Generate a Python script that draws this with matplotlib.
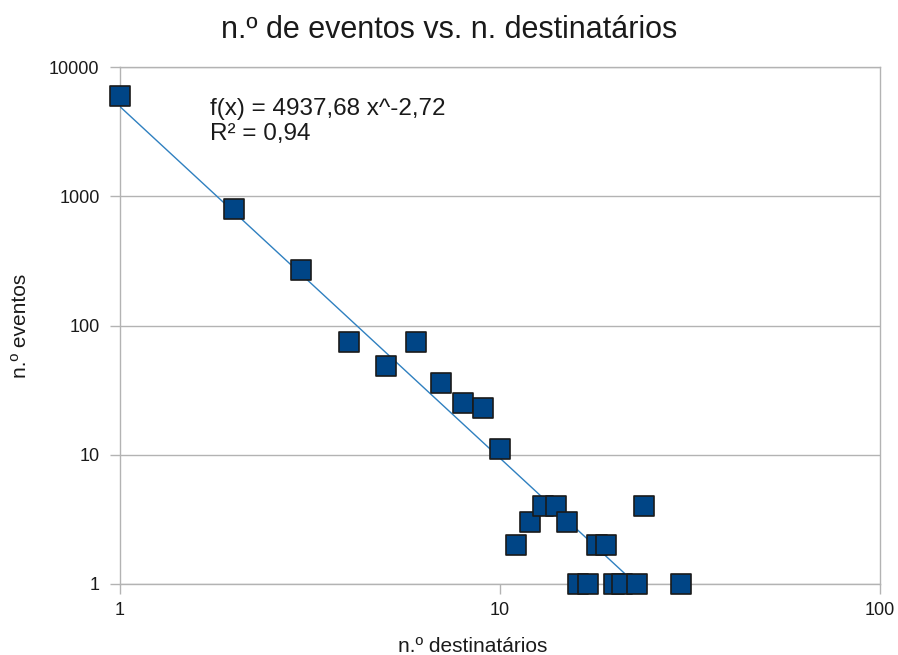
import matplotlib
matplotlib.use("Agg")
import matplotlib.pyplot as plt
import numpy as np
from matplotlib.ticker import FixedLocator, FixedFormatter, NullLocator

plt.rcParams['font.family'] = ['Liberation Sans', 'DejaVu Sans']

destinatarios = [1, 2, 3, 4, 5, 6, 7, 8, 9, 10, 11, 12, 13, 14, 15, 16, 17, 18, 19, 20, 21, 23, 24, 30]
eventos = [6000, 800, 270, 75, 49, 75, 36, 25, 23, 11, 2, 3, 4, 4, 3, 1, 1, 2, 2, 1, 1, 1, 4, 1]
fit_coef = 4937.68
fit_exp = -2.72
x_ticks = [1, 10, 100]
y_ticks = [1, 10, 100, 1000, 10000]

fig = plt.figure(figsize=(8.98, 6.55), dpi=100)
ax = fig.add_axes([0.1336, 0.1084, 0.98 - 0.1336, 0.8977 - 0.1084])

ax.set_xscale('log')
ax.set_yscale('log')
ax.set_xlim(1, 100)
ax.set_ylim(1, 10000)

xf = np.logspace(0, np.log10(max(destinatarios)), 200)
ax.plot(xf, fit_coef * xf ** fit_exp, color='#2f80c0', lw=1.0, zorder=3)
ax.scatter(destinatarios, eventos, marker='s', s=190, color='#004586',
           edgecolors='#1a1a1a', linewidths=1.2, zorder=4, clip_on=False)

ax.xaxis.set_major_locator(FixedLocator(x_ticks))
ax.xaxis.set_major_formatter(FixedFormatter([str(v) for v in x_ticks]))
ax.yaxis.set_major_locator(FixedLocator(y_ticks))
ax.yaxis.set_major_formatter(FixedFormatter([str(v) for v in y_ticks]))
ax.xaxis.set_minor_locator(NullLocator())
ax.yaxis.set_minor_locator(NullLocator())

ax.grid(axis='y', color='#b3b3b3', lw=1.0)
ax.set_axisbelow(True)
for s in ax.spines.values():
    s.set_color('#b3b3b3')
    s.set_linewidth(1.0)
ax.tick_params(axis='both', which='major', length=7.2, width=1.0, color='#b3b3b3',
               labelsize=13, labelcolor='#1a1a1a')
ax.tick_params(axis='x', pad=5.5)
ax.tick_params(axis='y', pad=7.5)

fig.text(0.5, 1 - 30 / 655, 'n.º de eventos vs. n. destinatários', fontsize=22,
         ha='center', va='center', color='#1a1a1a')
ax.set_xlabel('n.º destinatários', fontsize=15, color='#1a1a1a')
ax.xaxis.set_label_coords(0.4645, -0.1025)
ax.set_ylabel('n.º eventos', fontsize=15, color='#1a1a1a')
ax.yaxis.set_label_coords(-0.119, 0.5)

ax.text(0.118, 0.907, 'f(x) = 4937,68 x^-2,72', transform=ax.transAxes,
        fontsize=17.5, va='baseline', ha='left', color='#1a1a1a')
ax.text(0.118, 0.859, 'R² = 0,94', transform=ax.transAxes,
        fontsize=17.5, va='baseline', ha='left', color='#1a1a1a')

fig.savefig('out.png', dpi=100)
